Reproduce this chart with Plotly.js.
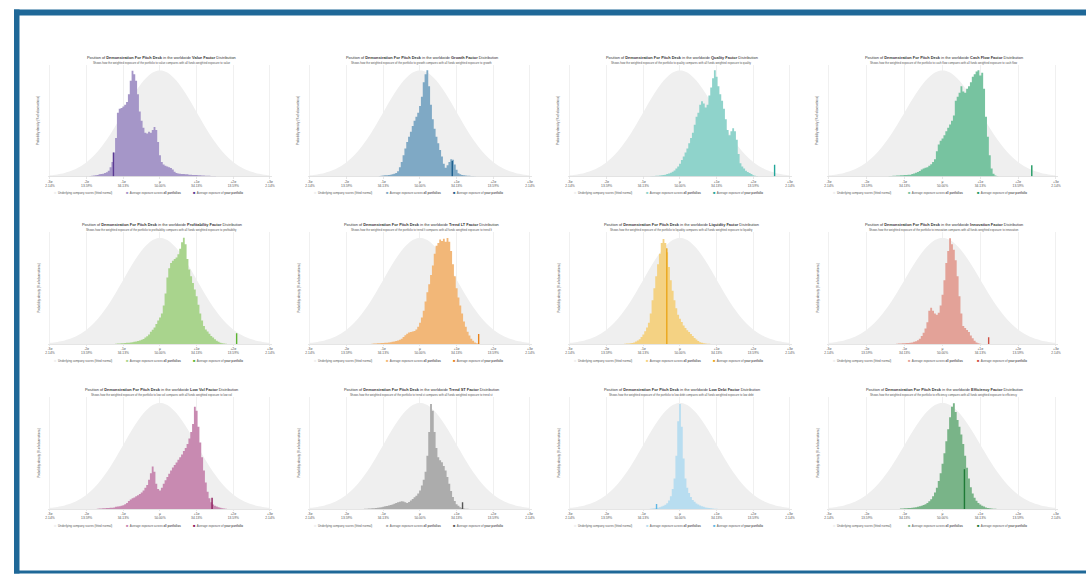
<!DOCTYPE html>
<html><head><meta charset="utf-8">
<script src="https://cdn.plot.ly/plotly-3.0.1.min.js"></script>
<style>html,body{margin:0;padding:0;background:#fff;overflow:hidden}#chart{width:1086px;height:575px}</style>
</head><body><div id="chart"></div>
<script>
// ---------------- DATA ----------------
const fundName = 'Demonstration For Pitch Deck';
const factors = ['Value','Growth','Quality','Cash Flow','Profitability','Trend LT','Liquidity','Innovation','Low Vol','Trend ST','Low Debt','Efficiency'];
const factorWords = ['value','growth','quality','cash flow','profitability','trend lt','liquidity','innovation','low vol','trend st','low debt','efficiency'];
const sigmaTicks = [-3,-2,-1,0,1,2,3];
const sigmaLabels = ['-3σ','-2σ','-1σ','μ','+1σ','+2σ','+3σ'];
const pctLabels = ['2.14%','13.59%','34.13%','50.00%','34.13%','13.59%','2.14%'];
const legendLabels = ['Underlying company scores (fitted normal)','Average exposure across <b>all portfolios</b>','Average exposure of <b>your portfolio</b>'];

// fitted normal (density, % scale), from -3σ to +3σ every 0.1σ
const normalStart = -3, normalStep = 0.1;
const normalDensity = [0.44,0.60,0.79,1.04,1.36,1.75,2.24,2.83,3.55,4.40,5.40,6.56,7.90,9.40,11.09,12.95,14.97,17.14,19.42,21.79,24.20,26.61,28.97,31.23,33.32,35.21,36.83,38.14,39.10,39.70,39.89,39.70,39.10,38.14,36.83,35.21,33.32,31.23,28.97,26.61,24.20,21.79,19.42,17.14,14.97,12.95,11.09,9.40,7.90,6.56,5.40,4.40,3.55,2.83,2.24,1.75,1.36,1.04,0.79,0.60,0.44];

// all-portfolio exposure histograms, bins of 0.05σ, first bin centred at histStart
const binStep = 0.05;
const histStart = [-1.90,-1.10,-0.80,-1.40,-1.20,-1.30,-1.50,-1.20,-1.70,-1.50,-0.80,-1.10];
const histValue = [0.2,0.3,0.4,0.5,0.6,0.8,0.9,1.0,1.3,1.6,2.2,3.5,5.5,9.0,14.5,24.0,25.5,25.8,26.3,27.0,28.0,31.0,36.0,39.8,38.5,36.0,31.0,24.5,21.0,18.3,16.5,16.2,16.8,16.5,17.5,18.6,17.5,13.0,8.0,5.5,4.5,4.0,3.8,3.5,3.2,2.6,1.8,1.3,1.1,1.0,0.9,0.9,0.8,0.8,0.7,0.7,0.6,0.6,0.6,0.5,0.5,0.4,0.4,0.3,0.3,0.3,0.2,0.2,0.2,0];
const histGrowth = [0.2,0.3,0.4,0.5,0.5,0.6,0.7,0.8,1.0,1.3,2.0,3.5,5.5,8.0,10.5,13.0,15.0,16.8,19.0,21.0,22.5,24.0,26.5,30.0,35.5,38.5,40.0,34.0,27.0,21.5,18.0,15.0,12.5,10.0,7.5,4.8,3.3,4.2,5.5,6.5,6.3,4.5,2.5,1.2,0.8,0.6,0.5,0.4,0.3,0.3,0.2,0.2,0.1,0];
const histQuality = [0.1,0.2,0.2,0.3,0.3,0.4,0.5,0.6,0.7,0.9,1.1,1.4,1.8,2.3,3.0,3.8,4.8,6.2,7.5,9.0,10.5,12.5,14.5,16.5,19.5,22.5,24.0,27.0,28.3,27.5,26.0,27.0,30.5,33.5,37.0,40.0,37.5,34.0,31.0,28.5,25.5,21.5,17.5,15.5,17.0,18.2,17.0,13.8,8.5,5.0,3.8,3.0,2.2,1.7,1.3,0.9,0.5,0.3,0.2,0];
const histCashFlow = [0.2,0.2,0.3,0.3,0.4,0.4,0.5,0.5,0.6,0.6,0.7,0.7,0.9,1.1,1.4,1.7,2.1,2.6,3.0,3.3,3.5,4.0,4.6,5.5,6.5,9.5,12.0,13.5,14.3,15.5,17.0,18.3,19.6,21.0,23.0,28.5,30.0,31.5,34.0,32.0,31.5,33.0,34.0,35.5,37.5,38.5,39.5,40.0,38.0,39.0,33.0,22.5,15.0,8.0,3.0,1.0,0.4,0.2,0];
const histProfitability = [0.1,0.2,0.2,0.3,0.3,0.4,0.5,0.5,0.6,0.7,0.8,0.9,1.1,1.3,1.6,1.9,2.4,2.9,3.6,4.6,5.4,6.2,7.5,8.8,10.0,11.5,14.5,19.0,25.0,28.5,30.5,31.3,32.0,32.6,33.8,35.8,38.3,40.0,37.5,32.0,28.0,25.5,23.0,20.5,18.0,14.8,11.5,8.8,6.8,5.5,4.7,3.9,3.0,2.4,1.8,1.2,0.8,0.5,0.3,0.2,0.1,0];
const histTrendLT = [0.1,0.2,0.2,0.3,0.3,0.4,0.4,0.5,0.5,0.6,0.7,0.8,0.9,1.1,1.3,1.6,2.0,2.6,3.3,3.9,4.3,4.5,4.7,4.9,5.5,6.5,8.0,10.0,12.5,16.0,19.5,22.5,26.0,29.5,34.0,37.0,38.0,39.3,38.8,39.6,38.5,39.9,38.5,35.0,30.0,25.5,21.0,17.5,14.5,11.5,8.5,6.5,4.6,3.2,2.0,1.2,0.6,0.3,0.1,0];
const histLiquidity = [0.1,0.2,0.2,0.3,0.4,0.6,0.9,1.3,1.8,2.6,3.6,4.8,6.2,8.0,11.5,16.5,21.0,25.5,30.0,34.0,38.0,39.5,38.0,34.5,29.0,24.0,20.0,16.5,13.5,11.0,9.5,8.3,7.0,6.0,5.2,4.5,3.8,3.0,2.3,1.7,1.1,0.7,0.5,0.3,0.2,0.1,0.1,0];
const histInnovation = [0.1,0.2,0.2,0.3,0.3,0.4,0.4,0.5,0.6,0.8,1.0,1.4,2.0,3.0,4.2,5.8,8.2,12.5,13.6,12.5,11.5,11.0,11.8,14.5,18.5,24.0,30.5,35.0,39.8,37.5,35.5,31.5,25.5,18.0,11.5,6.8,6.0,5.3,4.5,3.2,2.2,1.2,0.6,0.3,0.1,0];
const histLowVol = [0.1,0.2,0.2,0.3,0.3,0.4,0.4,0.5,0.5,0.6,0.8,0.9,1.0,1.2,1.4,1.8,2.3,3.0,3.6,4.0,4.3,4.8,5.2,5.6,6.2,7.0,8.0,9.0,11.0,13.5,16.0,14.0,9.5,7.5,7.0,8.0,9.5,10.8,12.0,13.3,14.5,15.6,16.6,17.5,18.5,19.5,20.5,21.8,23.0,24.5,26.5,29.0,32.0,38.5,37.0,31.0,25.0,19.5,14.5,10.0,6.5,4.0,2.5,1.7,1.2,0.9,0.7,0.5,0.3,0.2,0.1,0];
const histTrendST = [0.1,0.1,0.2,0.2,0.3,0.3,0.4,0.5,0.6,0.7,0.8,1.0,1.1,1.3,1.5,1.7,2.0,2.3,2.5,2.7,2.9,2.8,2.5,2.3,2.6,3.2,3.8,4.4,5.0,5.8,7.0,8.8,11.0,14.0,20.0,29.0,39.5,37.0,29.0,23.0,19.5,18.3,17.6,16.2,14.5,12.0,9.5,6.8,4.5,3.0,1.8,1.2,0.7,0.4,0.2,0.1,0.1,0];
const histLowDebt = [0.1,0.2,0.3,0.4,0.5,0.7,0.9,1.2,1.6,2.2,3.2,4.8,7.5,11.5,20.0,33.0,39.5,31.0,19.0,11.5,8.0,6.0,4.5,3.4,2.7,2.1,1.7,1.3,1.0,0.8,0.6,0.5,0.4,0.3,0.2,0.1,0.1,0];
const histEfficiency = [0.2,0.2,0.3,0.3,0.4,0.4,0.5,0.6,0.7,0.8,1.0,1.2,1.5,1.8,2.3,2.9,3.7,4.8,6.2,8.0,10.5,13.5,17.0,21.0,25.5,30.0,34.5,38.5,39.8,36.5,33.5,31.0,28.0,24.5,20.0,15.5,11.5,8.2,5.8,4.2,3.1,2.3,1.7,1.2,0.9,0.6,0.4,0.3,0.2,0.1,0.1,0];
const histAll = [histValue,histGrowth,histQuality,histCashFlow,histProfitability,histTrendLT,histLiquidity,histInnovation,histLowVol,histTrendST,histLowDebt,histEfficiency];

// your portfolio exposure (σ) and bar height
const portfolioX = [-1.27,0.88,2.58,2.36,2.09,1.60,-0.36,1.22,1.42,1.16,-0.64,0.58];
const portfolioH = [9.0,5.8,4.4,4.2,4.0,3.8,36.0,2.5,4.2,2.5,1.9,15.0];

// ---------------- STYLE ----------------
const histColors = ['#a596c8','#7fa9c5','#8fd3cb','#77c3a0','#a9d48d','#f2b778','#f4d283','#e3a298','#c88ab1','#acacac','#b8ddf0','#79b488'];
const markColors = ['#5a3a93','#1d5e8c','#22a69a','#1f9a62','#5cb531','#e8821b','#eba61b','#cf4f42','#8c1b5b','#555555','#5fb7e5','#1e7a36'];
const normalColor = '#efefef';
const W = 1086, H = 575;
const colPx = [[50,270],[310,530],[570,790],[829,1056]];
const rowBase = [176.5,344,509];
const yMax = 42, plotH = 111.6, xPad = 0.05;
const FONT = 'Liberation Sans, Arial, sans-serif';

const px = v => v / W;
const py = v => 1 - v / H;

const data = [], annotations = [], layout = {
  width: W, height: H, margin: {l:0,r:0,t:0,b:0}, paper_bgcolor:'#fff', plot_bgcolor:'rgba(0,0,0,0)',
  showlegend:false, font:{family:FONT, color:'#333'}
};

for (let i = 0; i < 12; i++) {
  const c = i % 4, r = Math.floor(i / 4);
  const [x0, x1] = colPx[c];
  const k = (x1 - x0) / 6;
  const b = rowBase[r];
  const sfx = i === 0 ? '' : String(i + 1);
  layout['xaxis' + sfx] = {
    domain: [px(x0 - xPad * k), px(x1 + xPad * k)], anchor: 'y' + sfx,
    range: [-3 - xPad, 3 + xPad], fixedrange: true,
    tickmode: 'array', tickvals: sigmaTicks,
    ticktext: sigmaTicks.map((t, j) => sigmaLabels[j] + '<br>' + pctLabels[j]),
    tickfont: {size: 3.3, color: '#555', family: FONT},
    ticks: 'outside', ticklen: 1.5, tickwidth: 0.5, tickcolor: '#cfcfcf',
    showgrid: true, gridcolor: '#e6e6e6', gridwidth: 0.6,
    showline: true, linecolor: '#d4d4d4', linewidth: 0.6, zeroline: false
  };
  layout['yaxis' + sfx] = {
    domain: [py(b), py(b - plotH)], anchor: 'x' + sfx, range: [0, yMax], fixedrange: true,
    showgrid: false, showticklabels: false, zeroline: false, showline: false, ticks: ''
  };
  const xa = 'x' + sfx, ya = 'y' + sfx;
  data.push({type:'scatter', mode:'lines', x0: normalStart, dx: normalStep, y: normalDensity,
    line:{shape:'spline', width:0, color:normalColor}, fill:'tozeroy', fillcolor:normalColor,
    xaxis: xa, yaxis: ya, hoverinfo:'skip'});
  // histogram drawn as a step area: each point is the left edge of its bin
  data.push({type:'scatter', mode:'lines', x0: histStart[i] - binStep / 2, dx: binStep, y: histAll[i],
    line:{shape:'hv', width:0, color: histColors[i]}, fill:'tozeroy', fillcolor: histColors[i],
    xaxis: xa, yaxis: ya, hoverinfo:'skip'});
  data.push({type:'scatter', mode:'lines', x: [portfolioX[i], portfolioX[i]], y: [0, portfolioH[i]],
    line:{width:1.4, color: markColors[i]}, xaxis: xa, yaxis: ya, hoverinfo:'skip'});

  const cx = (x0 + x1) / 2 + 1.5;
  annotations.push({xref:'paper', yref:'paper', x: px(cx), y: py(b - 119.2), xanchor:'center', yanchor:'middle', showarrow:false,
    text: 'Position of <b>' + fundName + '</b> in the worldwide <b>' + factors[i] + ' Factor</b> Distribution',
    font:{size:3.9, color:'#333', family:FONT}});
  annotations.push({xref:'paper', yref:'paper', x: px(cx), y: py(b - 113.8), xanchor:'center', yanchor:'middle', showarrow:false,
    text: 'Shows how the weighted exposure of the portfolio to ' + factorWords[i] + ' compares with all funds weighted exposure to ' + factorWords[i],
    font:{size:2.8, color:'#555', family:FONT}});
  annotations.push({xref:'paper', yref:'paper', x: px(x0 - 12), y: py(b - 55.5), xanchor:'center', yanchor:'middle', showarrow:false,
    textangle: -90, text: 'Probability density (% of observations)', font:{size:2.9, color:'#555', family:FONT}});
  const sw = [normalColor, histColors[i], markColors[i]];
  const lx = [3.3, 75.7, 142.3];
  for (let j = 0; j < 3; j++) {
    annotations.push({xref:'paper', yref:'paper', x: px(x0 + lx[j] * k / 36.667 - 1.2), y: py(b + 16.2), xanchor:'left', yanchor:'middle', showarrow:false,
      text: '<span style="color:' + sw[j] + ';font-size:4px">■</span>  ' + legendLabels[j],
      font:{size:2.9, color:'#555', family:FONT}});
  }
}
layout.annotations = annotations;
const frame = '#1f6898';
layout.shapes = [
  {type:'rect', xref:'paper', yref:'paper', x0: px(14), x1: 1.01, y0: py(15.5), y1: py(9.5), fillcolor: frame, line:{width:0}, layer:'above'},
  {type:'rect', xref:'paper', yref:'paper', x0: px(14), x1: px(19.5), y0: py(573.5), y1: py(9.5), fillcolor: frame, line:{width:0}, layer:'above'},
  {type:'rect', xref:'paper', yref:'paper', x0: px(14), x1: 1.01, y0: py(573.5), y1: py(570.5), fillcolor: frame, line:{width:0}, layer:'above'}
];
Plotly.newPlot('chart', data, layout, {staticPlot:true, displayModeBar:false});
</script>
</body></html>
